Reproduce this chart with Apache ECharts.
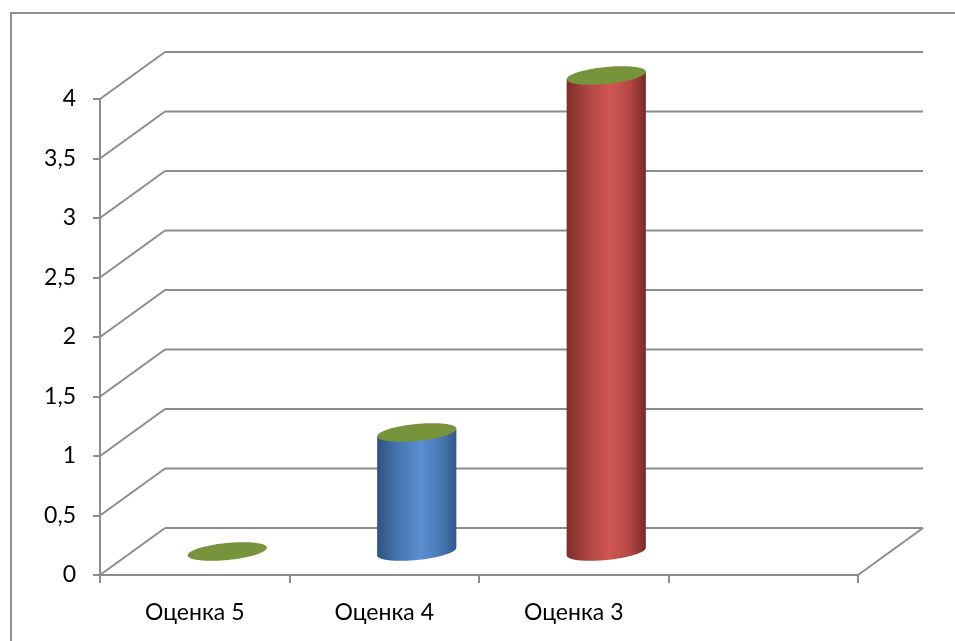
<!DOCTYPE html>
<html>
<head>
<meta charset="utf-8">
<style>
  html, body { margin: 0; padding: 0; background: #ffffff; }
  #chart { width: 955px; height: 641px; }
</style>
<script src="https://cdn.jsdelivr.net/npm/echarts@6/dist/echarts.min.js"></script>
</head>
<body>
<div id="chart"></div>
<script>
// Categories and values
const categories = ['Оценка 5', 'Оценка 4', 'Оценка 3', ''];
const values = [0, 1, 4];
const yTicks = [0, 0.5, 1, 1.5, 2, 2.5, 3, 3.5, 4];

// Cylinder side shading per bar, left to right across the curved face
const bodyPalette = [
  ['#5f7830', '#78983c', '#8aab4a', '#7a9a3f', '#5a722d'],
  ['#2f5181', '#4574b0', '#5b8fd1', '#4a78b5', '#34588a'],
  ['#7e2d2b', '#ad4441', '#cf5653', '#b54845', '#772a28']
];
const capColor = '#77933c';
const frameColor = '#8c8c8c';
const FONT = "Lato, 'Open Sans', sans-serif";

// Depth of the floor / back wall in pixels
const DX = 65, DY = -47;
// Tilt of the elliptical caps
const TILT = 0.1;

function ellipsePoint(cx, cy, a, b, t) {
  const c = Math.cos(TILT), s = Math.sin(TILT);
  return [
    cx + a * Math.cos(t) * c + b * Math.sin(t) * s,
    cy - a * Math.cos(t) * s + b * Math.sin(t) * c
  ];
}
function ellipsePoints(cx, cy, a, b) {
  const pts = [];
  for (let i = 0; i < 72; i++) pts.push(ellipsePoint(cx, cy, a, b, i / 72 * Math.PI * 2));
  return pts;
}

const chart = echarts.init(document.getElementById('chart'), null, { renderer: 'canvas' });

const option = {
  animation: false,
  backgroundColor: '#ffffff',
  grid: { left: 100, right: 97, top: 99, bottom: 66 },
  graphic: [{
    type: 'rect',
    shape: { x: 11, y: 13, width: 1000, height: 700 },
    style: { fill: 'none', stroke: '#8f8f8f', lineWidth: 2 },
    silent: true,
    z: 0
  }],
  xAxis: {
    type: 'category',
    data: categories,
    boundaryGap: true,
    axisLine: { lineStyle: { color: frameColor, width: 2 } },
    axisTick: { show: true, length: 8, lineStyle: { color: frameColor, width: 2 } },
    axisLabel: { color: '#000', fontSize: 23, fontFamily: FONT, margin: 26 },
    splitLine: { show: false }
  },
  yAxis: {
    type: 'value',
    min: 0,
    max: 4,
    interval: 0.5,
    axisLine: { show: true, lineStyle: { color: frameColor, width: 2 } },
    axisTick: { show: true, length: 7, lineStyle: { color: frameColor, width: 2 } },
    axisLabel: {
      color: '#000', fontSize: 23, fontFamily: FONT, margin: 24,
      formatter: v => String(v).replace('.', ',')
    },
    splitLine: { show: false }
  },
  series: [
    {
      // floor, side wall and back wall gridlines
      type: 'custom',
      silent: true,
      z: 1,
      data: yTicks.map(v => [0, v]),
      encode: { x: 0, y: 1 },
      renderItem(params, api) {
        const v = api.value(1);
        const cs = params.coordSys;
        const y = api.coord([0, v])[1];
        const left = cs.x, right = cs.x + cs.width;
        const ls = { stroke: frameColor, lineWidth: 2 };
        const children = [
          { type: 'line', shape: { x1: left, y1: y, x2: left + DX, y2: y + DY }, style: ls },
          { type: 'line', shape: { x1: left + DX, y1: y + DY, x2: right + DX, y2: y + DY }, style: ls }
        ];
        if (v === 0) {
          children.push({ type: 'line', shape: { x1: right, y1: y, x2: right + DX, y2: y + DY }, style: ls });
        }
        return { type: 'group', children };
      }
    },
    {
      // cylinders
      type: 'custom',
      z: 2,
      data: values.map((v, i) => [i, v]),
      encode: { x: 0, y: 1 },
      renderItem(params, api) {
        const i = api.value(0);
        const v = api.value(1);
        const top = api.coord([i, v]);
        const base = api.coord([i, 0]);
        const band = api.size([1, 0])[0];
        const a = band * 0.21;
        const b = 8.5;
        const cx = top[0] + DX / 2;
        const topY = top[1] + DY / 2;
        const botY = base[1] + DY / 2;
        const pal = bodyPalette[params.dataIndex];
        const children = [];
        if (botY - topY > 0.5) {
          // parameter of the points where the vertical sides touch the caps
          const t0 = Math.atan((b * Math.sin(TILT)) / (a * Math.cos(TILT)));
          const pts = [ellipsePoint(cx, topY, a, b, Math.PI + t0)];
          const N = 48;
          for (let k = 0; k <= N; k++) {
            pts.push(ellipsePoint(cx, botY, a, b, Math.PI + t0 - (k / N) * Math.PI));
          }
          pts.push(ellipsePoint(cx, topY, a, b, t0));
          children.push({
            type: 'polygon',
            shape: { points: pts },
            style: {
              fill: new echarts.graphic.LinearGradient(0, 0, 1, 0, [
                { offset: 0, color: pal[0] },
                { offset: 0.25, color: pal[1] },
                { offset: 0.55, color: pal[2] },
                { offset: 0.8, color: pal[3] },
                { offset: 1, color: pal[4] }
              ])
            }
          });
        }
        children.push({
          type: 'polygon',
          shape: { points: ellipsePoints(cx, topY, a, b) },
          style: { fill: capColor }
        });
        return { type: 'group', children };
      }
    }
  ]
};

chart.setOption(option);
</script>
</body>
</html>
